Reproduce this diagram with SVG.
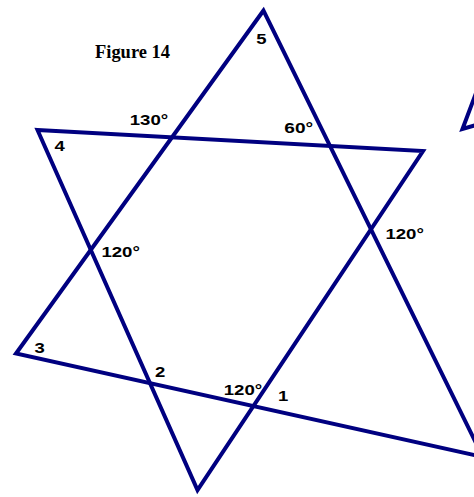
<svg xmlns="http://www.w3.org/2000/svg" width="474" height="497" viewBox="0 0 474 497">
  <style>
    .ln { fill: none; stroke: #000080; stroke-width: 4; stroke-linejoin: miter; stroke-miterlimit: 10; }
    .lbl { font-family: "Liberation Sans", Arial, sans-serif; font-weight: bold; font-size: 14px; fill: #000000; }
    .ttl { font-family: "Liberation Serif", "Times New Roman", serif; font-weight: bold; font-size: 18px; fill: #000000; }
  </style>
  <rect width="474" height="497" fill="#ffffff"/>
  <g id="figure-lines">
    <polygon id="triangle-a" class="ln" points="263.5,10.5 16,353.5 482.8,456.9"/>
    <polygon id="triangle-b" class="ln" points="37.5,130 423,151 197.5,490"/>
    <polyline id="partial-shape" class="ln" points="476,93 462.5,129 476,125"/>
  </g>
  <g id="title">
    <text class="ttl" x="95" y="58.3" textLength="75" lengthAdjust="spacingAndGlyphs">Figure 14</text>
  </g>
  <g id="labels">
    <text class="lbl" x="256.3" y="43.5" textLength="10.3" lengthAdjust="spacingAndGlyphs">5</text>
    <text class="lbl" x="54.4" y="151" textLength="10.3" lengthAdjust="spacingAndGlyphs">4</text>
    <text class="lbl" x="34.4" y="353" textLength="10.3" lengthAdjust="spacingAndGlyphs">3</text>
    <text class="lbl" x="155" y="377" textLength="10.3" lengthAdjust="spacingAndGlyphs">2</text>
    <text class="lbl" x="278" y="401" textLength="10.3" lengthAdjust="spacingAndGlyphs">1</text>
    <text class="lbl" x="129.7" y="125" textLength="38.5" lengthAdjust="spacingAndGlyphs">130°</text>
    <text class="lbl" x="284.3" y="133.3" textLength="28.8" lengthAdjust="spacingAndGlyphs">60°</text>
    <text class="lbl" x="101.4" y="256.7" textLength="38.5" lengthAdjust="spacingAndGlyphs">120°</text>
    <text class="lbl" x="385.4" y="239.3" textLength="38.5" lengthAdjust="spacingAndGlyphs">120°</text>
    <text class="lbl" x="223.7" y="395" textLength="38.5" lengthAdjust="spacingAndGlyphs">120°</text>
  </g>
</svg>
